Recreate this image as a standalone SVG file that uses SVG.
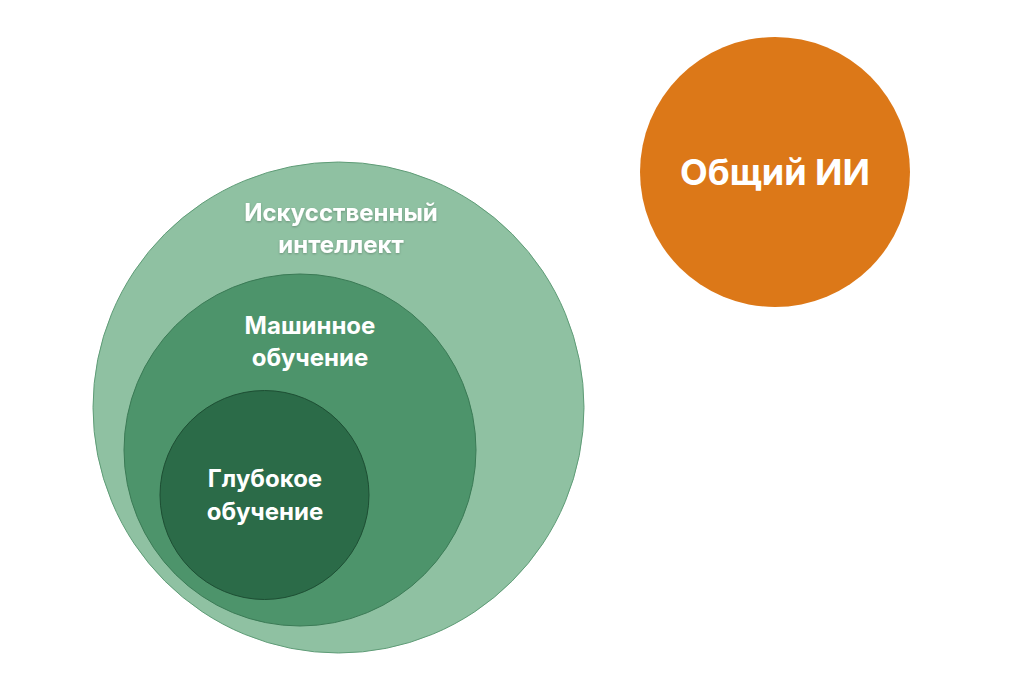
<svg xmlns="http://www.w3.org/2000/svg" width="1024" height="683" viewBox="0 0 1024 683">
<style>
.t{font-family:Inter,"Open Sans","DejaVu Sans",sans-serif;font-weight:700;fill:#ffffff;text-anchor:middle}
.s{font-size:24px}
.sh{filter:url(#ds)}
</style>
<defs>
<filter id="ds" x="-10%" y="-30%" width="120%" height="160%"><feDropShadow dx="0" dy="1" stdDeviation="1" flood-color="#000" flood-opacity="0.25"/></filter>
</defs>
<rect width="1024" height="683" fill="#ffffff"/>
<g id="ai">
<circle cx="338.5" cy="407.5" r="245.5" fill="#8fc1a2" stroke="#5f9c77" stroke-width="1"/>
<text class="t s sh" x="341" y="221">Искусственный</text>
<text class="t s sh" x="341" y="253">интеллект</text>
</g>
<g id="ml">
<circle cx="300" cy="450" r="176" fill="#4d946b" stroke="#3a7a55" stroke-width="1"/>
<text class="t s" x="310" y="334">Машинное</text>
<text class="t s" x="310" y="366">обучение</text>
</g>
<g id="dl">
<circle cx="264.5" cy="495" r="104.5" fill="#2b6b48" stroke="#1d4e33" stroke-width="1"/>
<text class="t s" x="265" y="487">Глубокое</text>
<text class="t s" x="265" y="520">обучение</text>
</g>
<g id="agi">
<circle cx="775" cy="172" r="135" fill="#dc7818"/>
<text class="t" x="775" y="185" font-size="36">Общий ИИ</text>
</g>
<g id="connectors"/>
</svg>
